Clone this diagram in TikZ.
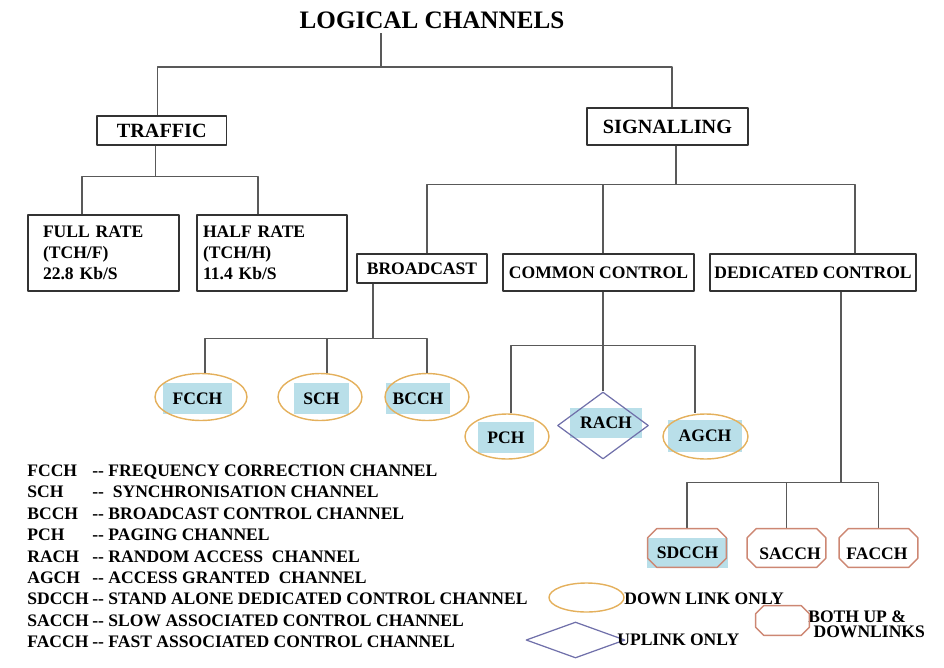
\documentclass[tikz,border=0pt]{standalone}
\usepackage{fontspec}
\setmainfont{Liberation Serif}
\usetikzlibrary{shapes.geometric}
\definecolor{downcol}{RGB}{228,176,92}
\definecolor{upcol}{RGB}{112,112,170}
\definecolor{bothcol}{RGB}{205,135,115}
\definecolor{hlblue}{RGB}{185,223,233}
\begin{document}
\begin{tikzpicture}[x=0.02cm,y=-0.02cm,font=\bfseries\fontsize{10}{12}\selectfont,line join=round,
  wire/.style={draw=black!65,line width=0.8pt},
  box/.style={draw=black!80,line width=0.8pt,inner sep=0pt},
  big/.style={font=\bfseries\fontsize{11.5}{13}\selectfont},
  hl/.style={fill=hlblue,inner sep=0pt},
  down/.style={ellipse,draw=downcol,line width=0.8pt,inner sep=0pt},
  up/.style={diamond,draw=upcol,line width=0.7pt,inner sep=0pt},
  both/.style={inner sep=0pt,minimum width=1.56cm,minimum height=0.76cm}]
\useasboundingbox (0,0) rectangle (944,667);

\node (title) at (432,20) {\fontsize{14.3}{16}\selectfont LOGICAL CHANNELS};
\coordinate (titlefoot) at (381,33);
\node[box,big,minimum width=2.59cm,minimum height=0.58cm] (traffic) at (161.75,130.5) {TRAFFIC};
\node[box,big,minimum width=3.22cm,minimum height=0.74cm] (signal) at (667.5,126.5) {SIGNALLING};

\node[box,minimum height=1.52cm,text width=2.42cm,inner xsep=0.3cm,align=left] (full) at (103.5,253) {FULL RATE\\(TCH/F)\\22.8 Kb/S};
\node[box,minimum height=1.52cm,text width=2.76cm,inner xsep=0.12cm,align=left] (half) at (272,253) {HALF RATE\\(TCH/H)\\11.4 Kb/S};

\node[box,minimum width=2.6cm,minimum height=0.58cm] (bcast) at (422,268.5) {BROADCAST};
\node[box,minimum width=3.82cm,minimum height=0.74cm] (common) at (598.5,272.5) {COMMON CONTROL};
\node[box,minimum width=4.12cm,minimum height=0.74cm] (ded) at (813,272.5) {DEDICATED CONTROL};

\node[hl,minimum width=1.38cm,minimum height=0.62cm] (fcchtxt) at (197.5,398.5) {FCCH};
\node[down,minimum width=1.84cm,minimum height=0.94cm] (fcch) at (201,397) {};
\node[hl,minimum width=1.1cm,minimum height=0.62cm] (schtxt) at (321.5,398.5) {SCH};
\node[down,minimum width=1.68cm,minimum height=0.94cm] (sch) at (320,397) {};
\node[hl,minimum width=1.28cm,minimum height=0.62cm] (bcchtxt) at (418,398.5) {BCCH};
\node[down,minimum width=1.68cm,minimum height=0.94cm] (bcch) at (427,397) {};

\node[hl,minimum width=1.12cm,minimum height=0.62cm] (pchtxt) at (506,437.5) {PCH};
\node[down,minimum width=1.68cm,minimum height=0.9cm] (pch) at (507,436.5) {};
\node[hl,minimum width=1.44cm,minimum height=0.6cm] (rachtxt) at (606,423) {RACH};
\node[up,minimum width=1.82cm,minimum height=1.34cm] (rach) at (603,425.5) {};
\node[hl,minimum width=1.48cm,minimum height=0.64cm] (agchtxt) at (705,436) {AGCH};
\node[down,minimum width=1.7cm,minimum height=0.9cm] (agch) at (705.5,436.5) {};

\node[hl,minimum width=1.62cm,minimum height=0.6cm] (sdcchtxt) at (687.5,553) {SDCCH};
\node[both] (sdcch) at (687,548) {};
\node (sacchtxt) at (790,554) {SACCH};
\node[both] (sacch) at (786.5,548) {};
\node (facchtxt) at (877,554) {FACCH};
\node[both] (facch) at (878.5,548) {};

\draw[wire] (titlefoot) -- ++(0,34) coordinate (rootbus);
\draw[wire] ([xshift=-0.08cm]traffic.north) |- (rootbus) -| ([xshift=0.09cm]signal.north);

\draw[wire] ([xshift=-0.12cm]traffic.south) -- ++(0,31) coordinate (trafbus);
\draw[wire] ([xshift=-0.43cm]full.north) |- (trafbus) -| ([xshift=-0.28cm]half.north);

\draw[wire] ([xshift=0.17cm]signal.south) -- ++(0,38.5) coordinate (sigbus);
\draw[wire] ([xshift=0.1cm]bcast.north) |- (sigbus) -| ([xshift=0.84cm]ded.north);
\draw[wire] ([xshift=0.09cm]common.north) -- ([xshift=0.09cm]common.north |- sigbus);

\draw[wire] ([xshift=-0.98cm]bcast.south) -- ++(0,54.5) coordinate (bcbus);
\draw[wire] ([xshift=0.08cm]fcch.north) |- (bcbus) -| (bcch.north);
\draw[wire] ([xshift=0.14cm]sch.north) -- ([xshift=0.14cm]sch.north |- bcbus);

\draw[wire] ([xshift=0.09cm]common.south) -- ++(0,53.5) coordinate (ccbus);
\draw[wire] ([xshift=0.08cm]pch.north) |- (ccbus) -| ([xshift=-0.21cm]agch.north);
\draw[wire] (rach.north) -- (rach.north |- ccbus);

\draw[wire] ([xshift=0.56cm]ded.south) -- ++(0,190.5) coordinate (dcbus);
\draw[wire] (sdcch.north) |- (dcbus) -| (facch.north);
\draw[wire] (sacch.north) -- (sacch.north |- dcbus);

\foreach \ab/\de [count=\i] in {FCCH/FREQUENCY CORRECTION CHANNEL,SCH/\ SYNCHRONISATION CHANNEL,
  BCCH/BROADCAST CONTROL CHANNEL,PCH/PAGING CHANNEL,RACH/RANDOM ACCESS\ \ CHANNEL,
  AGCH/ACCESS GRANTED\ \ CHANNEL,SDCCH/STAND ALONE DEDICATED CONTROL CHANNEL,
  SACCH/SLOW ASSOCIATED CONTROL CHANNEL,FACCH/FAST ASSOCIATED CONTROL CHANNEL}
{
  \node[anchor=base west,inner sep=0pt] (ab\i) at (27,{476.5+21.4*(\i-1)}) {\ab};
  \node[anchor=base west,inner sep=0pt] (de\i) at (92,{476.5+21.4*(\i-1)}) {-{}- \de};
}

\node[down,minimum width=1.5cm,minimum height=0.58cm] (keydown) at (586.5,597.5) {};
\node[anchor=west,inner sep=0pt] (keydowntxt) at (624,599) {DOWN LINK ONLY};
\node[up,minimum width=1.98cm,minimum height=0.72cm] (keyup) at (575.5,640) {};
\node[anchor=west,inner sep=0pt] (keyuptxt) at (617,639.5) {UPLINK ONLY};
\node[both,minimum width=1.06cm,minimum height=0.58cm] (keyboth) at (782.5,620.5) {};
\node[anchor=west,inner sep=0pt,align=left,font=\bfseries\fontsize{10}{8.6}\selectfont] (keybothtxt) at (808,624) {BOTH UP \&\\\hspace*{3pt}DOWNLINKS};

\foreach \n/\c in {sdcch/0.18cm,sacch/0.18cm,facch/0.18cm,keyboth/0.16cm}
  \draw[draw=bothcol,line width=0.8pt] ([xshift=\c]\n.north west) -- ([xshift=-\c]\n.north east)
    -- ([yshift=-\c]\n.north east) -- ([yshift=\c]\n.south east) -- ([xshift=-\c]\n.south east)
    -- ([xshift=\c]\n.south west) -- ([yshift=\c]\n.south west) -- ([yshift=-\c]\n.north west) -- cycle;
\end{tikzpicture}
\end{document}
